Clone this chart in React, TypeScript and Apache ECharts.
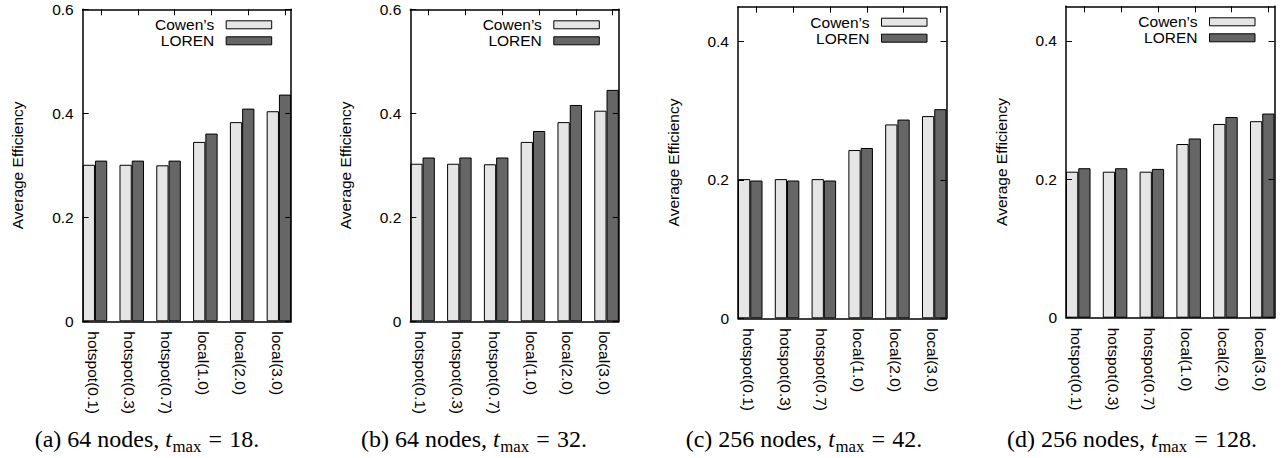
import React, { useEffect, useRef } from 'react';
import * as echarts from 'echarts';

// ---------------- data ----------------
const categories = ['hotspot(0.1)', 'hotspot(0.3)', 'hotspot(0.7)', 'local(1.0)', 'local(2.0)', 'local(3.0)'];
const seriesNames = ['Cowen\u2019s', 'LOREN'];

const cowenA = [0.301, 0.301, 0.300, 0.345, 0.383, 0.404];
const lorenA = [0.309, 0.309, 0.309, 0.361, 0.409, 0.436];
const cowenB = [0.303, 0.303, 0.302, 0.345, 0.383, 0.405];
const lorenB = [0.315, 0.315, 0.315, 0.366, 0.416, 0.445];
const cowenC = [0.201, 0.201, 0.201, 0.243, 0.280, 0.292];
const lorenC = [0.199, 0.199, 0.199, 0.246, 0.287, 0.302];
const cowenD = [0.211, 0.211, 0.211, 0.251, 0.280, 0.284];
const lorenD = [0.216, 0.216, 0.215, 0.259, 0.290, 0.295];

const yMaxes = [0.6, 0.6, 0.45, 0.45];
const yTickValues = [0, 0.2, 0.4, 0.6];
const yAxisTitle = 'Average Efficiency';
const captionTags = ['(a)', '(b)', '(c)', '(d)'];
const captionNodes = [64, 64, 256, 256];
const captionTmax = [18, 32, 42, 128];

// ---------------- layout ----------------
const SANS = '"Liberation Sans", Arial, Helvetica, sans-serif';
const SERIF = '"Liberation Serif", "Times New Roman", Times, serif';
const FS = 15.5;
const CAP_FS = 24;
const PW = 208.5;
const panels = [
  { left: 82.7, top: 9.3, bottom: 321.3, capX: 147 },
  { left: 410.3, top: 9.3, bottom: 321.3, capX: 474 },
  { left: 738, top: 6.7, bottom: 318.3, capX: 804 },
  { left: 1066, top: 6.3, bottom: 317.7, capX: 1132 },
];
const CAP_BASELINE = 447;

const cowenAll = [cowenA, cowenB, cowenC, cowenD];
const lorenAll = [lorenA, lorenB, lorenC, lorenD];

let measureCtx: CanvasRenderingContext2D | null = null;
function textWidth(text: string, font: string): number {
  if (!measureCtx) measureCtx = document.createElement('canvas').getContext('2d');
  measureCtx!.font = font;
  return measureCtx!.measureText(text).width;
}

function captionElements(p: number) {
  const s = CAP_FS;
  const sub = s * 0.7;
  const pieces: { text: string; size: number; style: string; shift: number; gapBefore: number }[] = [
    { text: `${captionTags[p]} ${captionNodes[p]} nodes, `, size: s, style: 'normal', shift: 0, gapBefore: 0 },
    { text: 't', size: s, style: 'italic', shift: 0, gapBefore: 0 },
    { text: 'max', size: sub, style: 'normal', shift: s * 0.2, gapBefore: s * 0.02 },
    { text: '=', size: s, style: 'normal', shift: 0, gapBefore: s * 0.3 },
    { text: `${captionTmax[p]}.`, size: s, style: 'normal', shift: 0, gapBefore: s * 0.3 },
  ];
  const widths = pieces.map((pc) => textWidth(pc.text, `${pc.style} ${pc.size}px ${SERIF}`));
  const total = pieces.reduce((acc, pc, i) => acc + pc.gapBefore + widths[i], 0);
  let x = panels[p].capX - total / 2;
  return pieces.map((pc, i) => {
    x += pc.gapBefore;
    const el = {
      type: 'text',
      x,
      y: CAP_BASELINE + pc.shift - 0.3375 * pc.size,
      silent: true,
      style: {
        text: pc.text,
        fontSize: pc.size,
        fontFamily: SERIF,
        fontStyle: pc.style,
        fill: '#000',
        textAlign: 'left',
        textVerticalAlign: 'middle',
        align: 'left',
        verticalAlign: 'middle',
      },
    };
    x += widths[i];
    return el;
  });
}

function buildOption() {
  const units = categories.length * 3 - 1;
  const bw = PW / units;
  const tickVals = categories.map((_, i) => 3 * i + 1.5);
  const lineStyle = { color: '#000', width: 1.5 };

  const grid: any[] = [];
  const xAxis: any[] = [];
  const yAxis: any[] = [];
  const series: any[] = [];
  const legend: any[] = [];
  const graphic: any[] = [];

  panels.forEach((pn, p) => {
    grid.push({ left: pn.left, top: pn.top, width: PW, height: pn.bottom - pn.top, containLabel: false });
    const yLabelVals = yTickValues.filter((v) => v <= yMaxes[p] + 1e-9);
    xAxis.push({
      type: 'value', gridIndex: p, position: 'bottom', min: 0, max: units, z: 5,
      axisLine: { show: true, onZero: false, lineStyle },
      axisTick: { show: false },
      splitLine: { show: false },
      axisLabel: {
        customValues: tickVals,
        rotate: -90,
        verticalAlign: 'top',
        margin: 10,
        fontSize: FS,
        fontFamily: SANS,
        color: '#000',
        formatter: (v: number) => categories[Math.round((v - 1.5) / 3)] ?? '',
      },
    });
    xAxis.push({
      type: 'value', gridIndex: p, position: 'top', min: 0, max: units, z: 5,
      axisLine: { show: true, onZero: false, lineStyle },
      axisTick: { show: true, inside: true, length: 6, customValues: tickVals, lineStyle: { color: '#000', width: 1 } },
      axisLabel: { show: false },
      splitLine: { show: false },
    });
    yAxis.push({
      type: 'value', gridIndex: p, position: 'left', min: 0, max: yMaxes[p], interval: 0.2, z: 5,
      axisLine: { show: true, onZero: false, lineStyle },
      axisTick: { show: true, inside: true, length: 6, customValues: yLabelVals, lineStyle: { color: '#000', width: 1 } },
      splitLine: { show: false },
      axisLabel: {
        customValues: yLabelVals,
        margin: 9,
        fontSize: FS,
        fontFamily: SANS,
        color: '#000',
        formatter: (v: number) =>
          Math.abs(v - Math.round(v * 5) / 5) < 1e-9 ? String(Math.round(v * 10) / 10) : '',
      },
      name: yAxisTitle,
      nameLocation: 'middle',
      nameGap: 57,
      nameTextStyle: { fontSize: FS, fontFamily: SANS, color: '#000' },
    });
    yAxis.push({
      type: 'value', gridIndex: p, position: 'right', min: 0, max: yMaxes[p], interval: 0.2, z: 5,
      axisLine: { show: true, onZero: false, lineStyle },
      axisTick: { show: true, inside: true, length: 6, customValues: yLabelVals, lineStyle: { color: '#000', width: 1 } },
      splitLine: { show: false },
      axisLabel: { show: false },
    });
    series.push({
      type: 'bar', name: seriesNames[0], xAxisIndex: 2 * p, yAxisIndex: 2 * p,
      barWidth: bw, barGap: '-100%', silent: true,
      itemStyle: { color: '#e5e5e5', borderColor: '#000', borderWidth: 1 },
      data: cowenAll[p].map((v, i) => [3 * i + 0.5, v]),
    });
    series.push({
      type: 'bar', name: seriesNames[1], xAxisIndex: 2 * p, yAxisIndex: 2 * p,
      barWidth: bw, barGap: '-100%', silent: true,
      itemStyle: { color: '#666666', borderColor: '#000', borderWidth: 1 },
      data: lorenAll[p].map((v, i) => [3 * i + 1.5, v]),
    });
    legend.push({
      orient: 'vertical', align: 'right', icon: 'rect',
      right: 1288 - (pn.left + PW - 19), top: pn.top + 7.5,
      padding: 0, itemGap: 0, itemWidth: 45.5, itemHeight: 8,
      selectedMode: false,
      data: seriesNames,
      itemStyle: { borderColor: '#000', borderWidth: 1 },
      textStyle: { fontSize: FS, fontFamily: SANS, color: '#000', lineHeight: 16, padding: [0, 7, 0, 0] },
    });
    graphic.push(...captionElements(p));
  });

  return {
    animation: false,
    backgroundColor: '#fff',
    grid, xAxis, yAxis, series, legend, graphic,
  };
}

export default function App() {
  const ref = useRef<HTMLDivElement>(null);
  useEffect(() => {
    const chart = echarts.init(ref.current!, null, { renderer: 'svg' });
    chart.setOption(buildOption() as any);
    return () => chart.dispose();
  }, []);
  return <div ref={ref} style={{ position: 'absolute', left: 0, top: 0, width: 1288, height: 458 }} />;
}
